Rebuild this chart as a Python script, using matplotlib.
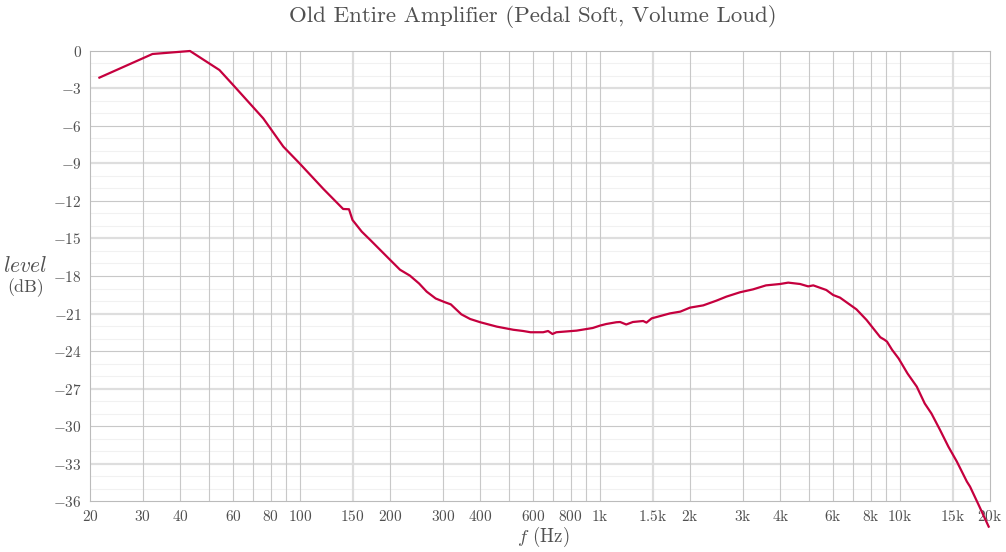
import matplotlib
matplotlib.use("Agg")
import matplotlib.pyplot as plt

freqs = [21.5, 32.3, 43.1, 54, 60, 75.6, 88.2, 100, 120, 139.6, 146, 150,
         161, 171.6, 200, 216, 233, 250, 265, 284, 305, 319, 346, 370, 400,
         454, 515, 556, 588, 648, 673, 696, 717, 838, 948, 1002, 1052, 1136,
         1170, 1226, 1290, 1396, 1432, 1490, 1716, 1857, 2000, 2214, 2451,
         2645, 2937, 3244, 3584, 3991, 4250, 4656, 4954, 5152, 5693, 6000,
         6325, 7178, 7757, 8617, 8900, 9072, 9430, 9920, 10620, 11400,
         12120, 12760, 13620, 14530, 15510, 16750, 17160, 18320, 19800]
levels = [-2.13, -0.24, 0.0, -1.52, -2.72, -5.39, -7.65, -9.0, -11.04,
          -12.64, -12.66, -13.52, -14.45, -15.1, -16.7, -17.5, -17.97, -18.6,
          -19.25, -19.8, -20.1, -20.27, -21.07, -21.44, -21.7, -22.05, -22.3,
          -22.4, -22.5, -22.5, -22.4, -22.64, -22.5, -22.37, -22.16, -21.97,
          -21.84, -21.7, -21.68, -21.88, -21.68, -21.6, -21.73, -21.39,
          -20.99, -20.85, -20.53, -20.35, -19.97, -19.65, -19.3, -19.07,
          -18.75, -18.64, -18.53, -18.64, -18.83, -18.75, -19.12, -19.52,
          -19.73, -20.67, -21.52, -22.9, -23.1, -23.25, -23.9, -24.6, -25.8,
          -26.85, -28.2, -29.0, -30.3, -31.65, -32.85, -34.45, -34.85,
          -36.3, -38.05]

x_ticks = [20, 30, 40, 60, 80, 100, 150, 200, 300, 400, 600, 800, 1000,
           1500, 2000, 3000, 4000, 6000, 8000, 10000, 15000, 20000]
x_labels = ["20", "30", "40", "60", "80", "100", "150", "200", "300", "400",
            "600", "800", "1k", "1.5k", "2k", "3k", "4k", "6k", "8k", "10k",
            "15k", "20k"]
x_extra = [50, 70, 90, 500, 700, 900, 5000, 7000, 9000]
y_ticks = list(range(0, -37, -3))

LINE = "#c5003e"
TEXT = "#505050"


def main():
    plt.rcParams["mathtext.fontset"] = "cm"
    fig = plt.figure(figsize=(10.06, 5.52), dpi=100)
    ax = fig.add_axes([0.08946, 0.09239, 0.89463, 0.81522])

    # grid
    for v in range(-35, 0):
        if v % 3:
            ax.axhline(v, color="#f1f1f1", lw=0.8, zorder=0)
    for v in y_ticks[1:-1]:
        if v % 6:
            ax.axhline(v, color="#dedede", lw=1.6, zorder=0)
        else:
            ax.axhline(v, color="#c8c8c8", lw=0.8, zorder=0)
    for f in x_ticks[1:-1] + x_extra:
        if str(f).startswith("15"):
            ax.axvline(f, color="#dcdcdc", lw=1.6, zorder=0)
        else:
            ax.axvline(f, color="#c8c8c8", lw=0.8, zorder=0)

    ax.plot(freqs, levels, color=LINE, lw=1.6, clip_on=False, zorder=3)

    ax.set_xscale("log")
    ax.set_xlim(20, 20000)
    ax.set_ylim(-36, 0)
    ax.set_xticks(x_ticks)
    ax.set_xticklabels(["$" + s.replace("k", r"\mathrm{k}") + "$"
                        for s in x_labels])
    ax.set_xticks([], minor=True)
    ax.set_yticks(y_ticks)
    ax.set_yticklabels(["$%d$" % v for v in y_ticks])
    ax.tick_params(length=0, labelsize=11, labelcolor=TEXT)
    ax.tick_params(axis="x", pad=6)
    ax.tick_params(axis="y", pad=6)
    for s in ax.spines.values():
        s.set_color("#bbbbbb")
        s.set_linewidth(0.8)

    fig.text(533 / 1006, 1 - 16 / 552, "Old Entire Amplifier (Pedal Soft, Volume Loud)",
             family="cmr10", fontsize=16.5, color=TEXT, ha="center", va="center")
    fig.text(25 / 1006, 1 - 266 / 552, "$level$", fontsize=15.5, color=TEXT,
             ha="center", va="center")
    fig.text(26 / 1006, 1 - 288 / 552, "(dB)", family="cmr10", fontsize=13,
             color=TEXT, ha="center", va="center")
    fig.text(543 / 1006, 1 - 537 / 552, "$f$ (Hz)", family="cmr10",
             fontsize=13.5, color=TEXT, ha="center", va="center")

    fig.savefig("out.png", dpi=100)


if __name__ == "__main__":
    main()
